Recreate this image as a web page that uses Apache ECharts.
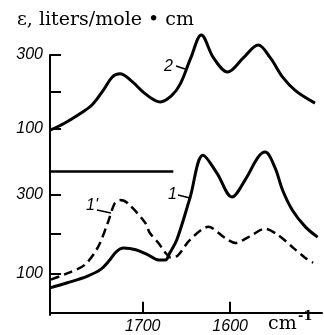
<!DOCTYPE html>
<html>
<head>
<meta charset="utf-8">
<script src="https://cdn.jsdelivr.net/npm/echarts@6/dist/echarts.min.js"></script>
<style>
  html, body { margin: 0; padding: 0; background: #fff; }
  #chart { width: 324px; height: 335px; }
</style>
</head>
<body>
<div id="chart"></div>
<script>
// wavenumber (cm-1) and epsilon values
const wn2 = [1806, 1790, 1774, 1758, 1745, 1735, 1726, 1712, 1697, 1680, 1667, 1657, 1645, 1633, 1619, 1603, 1585, 1568, 1554, 1540, 1525, 1503];
const eps2 = [97, 115, 138, 165, 205, 240, 249, 228, 195, 173, 190, 222, 292, 354, 292, 254, 292, 327, 292, 240, 203, 170];

const wn1 = [1806, 1786, 1763, 1748, 1738, 1730, 1722, 1708, 1694, 1682, 1674, 1669, 1661, 1646, 1631, 1615, 1598, 1583, 1568, 1560, 1549, 1540, 1529, 1514, 1500];
const eps1 = [63, 76, 93, 110, 133, 155, 164, 160, 147, 134, 134, 152, 185, 291, 400, 354, 294, 337, 395, 408, 370, 311, 261, 218, 192];

const wn1p = [1805, 1785, 1766, 1751, 1740, 1732, 1726, 1717, 1697, 1692, 1682, 1674, 1668, 1660, 1646, 1625, 1606, 1594, 1579, 1560, 1545, 1529, 1514, 1505];
const eps1p = [84, 101, 122, 167, 228, 278, 286, 278, 228, 203, 177, 152, 140, 145, 185, 218, 190, 177, 192, 213, 197, 167, 139, 127];

const xTicks = [1700, 1600];
const yTicks = [100, 200, 300];
const yLabels = [100, 300];

const pairs = (xs, ys) => xs.map((x, i) => [x, ys[i]]);

const chart = echarts.init(document.getElementById('chart'));

const tickFont = { color: '#000', fontSize: 16, fontStyle: 'italic', fontFamily: 'Liberation Sans', formatter: (v) => String(v) };

let yAxisBase = function(min, max){
    return {
        type: 'value',
        min: min,
        max: max,
        splitLine: { show: false },
        axisLine: { show: true, lineStyle: { color: '#000', width: 2 } },
        axisTick: { show: true, inside: true, length: 11, customValues: yTicks, lineStyle: { color: '#000', width: 2 } },
        axisLabel: Object.assign({ customValues: yLabels, margin: 7 }, tickFont)
    };
};

const xMin = 1495, xMax = 1806;

chart.setOption({
    animation: false,
    grid: [
        { left: 50, right: 2, top: 55, height: 116 },
        { left: 50, right: 2, top: 171, height: 144 }
    ],
    xAxis: [
        { gridIndex: 0, type: 'value', min: xMin, max: xMax, inverse: true, show: false },
        {
            gridIndex: 1, type: 'value', min: xMin, max: xMax, inverse: true,
            splitLine: { show: false },
            axisLine: { show: true, lineStyle: { color: '#000', width: 2 } },
            axisTick: { show: true, inside: true, length: 11, customValues: xTicks, lineStyle: { color: '#000', width: 2 } },
            axisLabel: Object.assign({ customValues: xTicks, margin: 4 }, tickFont)
        }
    ],
    yAxis: [
        Object.assign({ gridIndex: 0 }, yAxisBase(-13.5, 300)),
        Object.assign({ gridIndex: 1 }, yAxisBase(-6, 360))
    ],
    series: [
        {
            name: '2', type: 'line', xAxisIndex: 0, yAxisIndex: 0,
            data: pairs(wn2, eps2), smooth: 0.35, showSymbol: false, clip: false,
            lineStyle: { color: '#000', width: 3 },
            markLine: {
                silent: true, symbol: 'none', label: { show: false },
                lineStyle: { color: '#000', width: 2.5, type: 'solid' },
                data: [[{ coord: [xMax, -13.5] }, { coord: [1665, -13.5] }]]
            }
        },
        {
            name: '1', type: 'line', xAxisIndex: 1, yAxisIndex: 1,
            data: pairs(wn1, eps1), smooth: 0.35, showSymbol: false, clip: false,
            lineStyle: { color: '#000', width: 3 }
        },
        {
            name: "1'", type: 'line', xAxisIndex: 1, yAxisIndex: 1,
            data: pairs(wn1p, eps1p), smooth: 0.3, showSymbol: false, clip: false,
            lineStyle: { color: '#000', width: 2.5, type: [9, 5] }
        }
    ],
    graphic: [
        { type: 'text', left: 17, top: 11, style: { text: 'ε, liters/mole • cm', fontSize: 19, fontFamily: 'DejaVu Serif', fill: '#000' } },
        { type: 'text', left: 268, top: 315, style: { text: 'cm', fontSize: 19, fontFamily: 'DejaVu Serif', fill: '#000' } },
        { type: 'text', left: 298, top: 310, style: { text: '-1', fontSize: 13, fontWeight: 'bold', fontFamily: 'DejaVu Serif', fill: '#000' } },
        // curve labels with leaders
        { type: 'text', left: 164, top: 59, style: { text: '2', fontSize: 16, fontStyle: 'italic', fontFamily: 'Liberation Sans', fill: '#000' } },
        { type: 'line', shape: { x1: 176, y1: 66, x2: 185, y2: 69 }, style: { stroke: '#000', lineWidth: 1.5 } },
        { type: 'text', left: 168, top: 187, style: { text: '1', fontSize: 16, fontStyle: 'italic', fontFamily: 'Liberation Sans', fill: '#000' } },
        { type: 'line', shape: { x1: 178, y1: 195, x2: 190, y2: 198 }, style: { stroke: '#000', lineWidth: 1.5 } },
        { type: 'text', left: 86, top: 198, style: { text: "1'", fontSize: 16, fontStyle: 'italic', fontFamily: 'Liberation Sans', fill: '#000' } },
        { type: 'line', shape: { x1: 97, y1: 210, x2: 111, y2: 213 }, style: { stroke: '#000', lineWidth: 1.5 } }
    ]
});
</script>
</body>
</html>
